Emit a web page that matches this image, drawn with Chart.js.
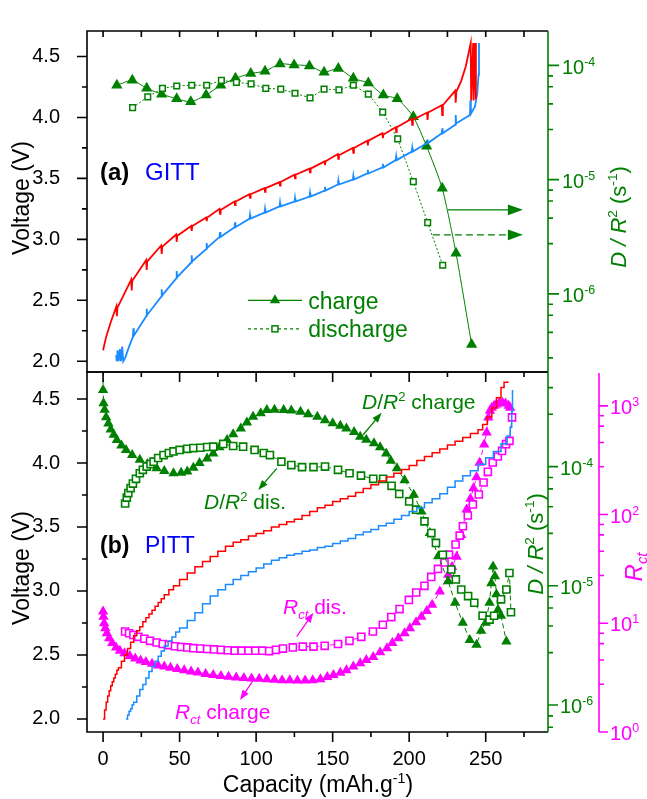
<!DOCTYPE html>
<html>
<head>
<meta charset="utf-8">
<script src="https://cdn.jsdelivr.net/npm/chart.js@4.4.1/dist/chart.umd.min.js"></script>
<style>
  body { margin: 0; background: #fff; }
  #wrap { position: relative; width: 647px; height: 799px; }
  canvas { position: absolute; left: 0; top: 0; }
</style>
</head>
<body>
<div id="wrap">
  <canvas id="gitt" width="647" height="799"></canvas>
  <canvas id="pitt" width="647" height="799"></canvas>
</div>
<script>
const GREEN = '#008000', MAGENTA = '#ff00ff', RED = '#ff0000', BLUE = '#1a8cff';
const FONT = '"Liberation Sans", Arial, Helvetica, sans-serif';

// ---- (a) GITT : voltage curves (capacity, V) ----
const gittChgCap = [0, 2, 5, 8.7, 9.0, 9.4, 18.4, 18.7, 19.1, 28.2, 28.5, 28.9, 38.0, 38.3, 38.7, 47.8, 48.1, 48.5, 57.6, 57.9, 58.3, 67.4, 67.7, 68.1, 76.1, 76.4, 76.8, 85.9, 86.2, 86.6, 95.7, 96.0, 96.4, 105.5, 105.8, 106.2, 115.3, 115.6, 116.0, 125.1, 125.4, 125.8, 134.9, 135.2, 135.6, 144.7, 145.0, 145.4, 153.4, 153.7, 154.1, 163.2, 163.5, 163.9, 172.7, 173.0, 173.4, 182.5, 182.8, 183.2, 191.2, 191.5, 191.9, 201.7, 202.0, 202.4, 211.7, 212.0, 212.4, 221.3, 221.6, 222.0, 230.1, 230.4, 230.8, 234, 237, 240.2, 240.5, 241.8, 242.1, 243.3, 243.6];
const gittChgV = [2.09, 2.2, 2.32, 2.45, 2.37, 2.44, 2.67, 2.58, 2.66, 2.83, 2.75, 2.82, 2.95, 2.88, 2.94, 3.04, 2.98, 3.03, 3.11, 3.07, 3.11, 3.18, 3.15, 3.18, 3.25, 3.21, 3.24, 3.31, 3.28, 3.31, 3.37, 3.34, 3.37, 3.42, 3.39, 3.42, 3.47, 3.44, 3.47, 3.53, 3.50, 3.53, 3.58, 3.55, 3.58, 3.64, 3.61, 3.64, 3.70, 3.66, 3.69, 3.75, 3.71, 3.75, 3.81, 3.77, 3.81, 3.87, 3.83, 3.86, 3.92, 3.88, 3.92, 3.99, 3.94, 3.98, 4.04, 3.98, 4.04, 4.10, 4.02, 4.10, 4.22, 4.12, 4.21, 4.30, 4.42, 4.61, 4.14, 4.61, 4.14, 4.61, 4.15];
const gittDisCap = [8.5, 9.0, 9.5, 10.2, 11.0, 11.7, 12.5, 13.2, 14.5, 17.0, 19.5, 19.8, 20.1, 28.2, 28.5, 28.8, 38.0, 38.3, 38.6, 47.8, 48.1, 48.4, 57.6, 57.9, 58.2, 67.4, 67.7, 68.0, 76.1, 76.4, 76.7, 85.9, 86.2, 86.5, 95.7, 96.0, 96.3, 105.5, 105.8, 106.1, 115.3, 115.6, 115.9, 125.1, 125.4, 125.7, 134.9, 135.2, 135.5, 144.7, 145.0, 145.3, 153.4, 153.7, 154.0, 163.2, 163.5, 163.8, 172.7, 173.0, 173.3, 182.5, 182.8, 183.1, 191.2, 191.5, 191.8, 201.7, 202.0, 202.3, 211.7, 212.0, 212.3, 221.3, 221.6, 221.9, 230.1, 230.4, 230.7, 239.7, 240.0, 240.3, 243.0, 244.5, 245.3, 245.6];
const gittDisV = [2.05, 2.0, 2.09, 2.0, 2.1, 2.0, 2.12, 2.0, 2.03, 2.12, 2.20, 2.27, 2.21, 2.37, 2.43, 2.38, 2.53, 2.59, 2.54, 2.68, 2.74, 2.69, 2.81, 2.87, 2.82, 2.92, 2.97, 2.93, 3.02, 3.06, 3.02, 3.10, 3.14, 3.10, 3.17, 3.20, 3.17, 3.22, 3.25, 3.22, 3.27, 3.30, 3.27, 3.31, 3.34, 3.31, 3.35, 3.38, 3.35, 3.40, 3.43, 3.40, 3.45, 3.48, 3.45, 3.49, 3.52, 3.49, 3.54, 3.57, 3.54, 3.59, 3.62, 3.59, 3.65, 3.68, 3.65, 3.72, 3.75, 3.72, 3.79, 3.82, 3.79, 3.87, 3.91, 3.87, 3.94, 4.02, 3.95, 4.02, 4.14, 4.03, 4.09, 4.2, 4.35, 4.61];

// ---- (a) GITT : D/R^2 (s^-1) ----
const gittDChgCap = [9.0, 19.1, 28.5, 38.3, 48.1, 57.3, 67.3, 76.9, 86.5, 96.5, 105.8, 115.6, 124.8, 134.8, 144.4, 153.7, 163.5, 173.3, 183.1, 192.2, 202.7, 211.4, 221.6, 230.6, 240.8];
const gittDChg = [6.7e-5, 7.4e-5, 6.3e-5, 5.6e-5, 5.1e-5, 4.8e-5, 5.5e-5, 6.7e-5, 7.7e-5, 8.5e-5, 8.9e-5, 1.03e-4, 1.01e-4, 9.9e-5, 8.7e-5, 9.4e-5, 7.7e-5, 7.0e-5, 5.5e-5, 5.1e-5, 3.55e-5, 1.96e-5, 8.4e-6, 2.27e-6, 3.6e-7];
const gittDDisCap = [19.3, 29.2, 38.8, 48.1, 57.9, 67.7, 77.3, 87.1, 96.7, 106.3, 116.1, 125.4, 135.2, 144.4, 154.1, 163.5, 173.3, 182.7, 192.5, 202.7, 212.1, 221.9];
const gittDDis = [4.27e-5, 5.3e-5, 6.3e-5, 6.6e-5, 6.7e-5, 6.7e-5, 7.4e-5, 7.1e-5, 6.9e-5, 6.3e-5, 6.2e-5, 5.7e-5, 5.2e-5, 6.2e-5, 6.1e-5, 6.7e-5, 5.6e-5, 3.9e-5, 2.27e-5, 9.6e-6, 4.2e-6, 1.78e-6];

// ---- (b) PITT : voltage staircases ----
const pittChgCap = [0, 1, 2, 3, 4, 5, 6, 7, 8, 9, 10, 12, 14, 16, 18, 20, 22, 24, 26, 28, 30, 32, 34, 36, 38, 40, 43, 46, 50, 55, 60, 65, 70, 75, 80, 85, 90, 95, 100, 105, 110, 115, 120, 125, 130, 135, 140, 145, 150, 155, 160, 165, 170, 175, 180, 185, 190, 195, 200, 205, 210, 215, 220, 225, 230, 235, 240, 245, 248, 251, 254, 257, 260, 262, 265];
const pittChgV = [2.00, 2.07, 2.13, 2.18, 2.22, 2.26, 2.29, 2.32, 2.35, 2.38, 2.40, 2.45, 2.50, 2.55, 2.60, 2.65, 2.69, 2.72, 2.76, 2.79, 2.82, 2.85, 2.88, 2.91, 2.94, 2.97, 3.01, 3.04, 3.09, 3.14, 3.19, 3.23, 3.27, 3.31, 3.35, 3.38, 3.40, 3.43, 3.45, 3.47, 3.50, 3.52, 3.54, 3.56, 3.59, 3.62, 3.65, 3.67, 3.70, 3.72, 3.74, 3.77, 3.80, 3.83, 3.86, 3.89, 3.92, 3.95, 3.98, 4.02, 4.05, 4.08, 4.11, 4.14, 4.17, 4.20, 4.23, 4.26, 4.30, 4.36, 4.43, 4.51, 4.59, 4.63, 4.63];
const pittDisCap = [15, 16, 17, 18, 19, 20, 22, 24, 26, 28, 30, 32, 34, 36, 38, 40, 42.5, 45, 47.5, 50, 55, 60, 65, 70, 75, 80, 85, 90, 95, 100, 105, 110, 115, 120, 125, 130, 135, 140, 145, 150, 155, 160, 165, 170, 175, 180, 185, 190, 195, 200, 205, 210, 215, 220, 225, 230, 235, 240, 245, 250, 255, 260, 264, 266, 267, 267.5];
const pittDisV = [2.00, 2.03, 2.06, 2.08, 2.11, 2.13, 2.18, 2.23, 2.27, 2.32, 2.37, 2.41, 2.45, 2.49, 2.53, 2.57, 2.61, 2.64, 2.68, 2.71, 2.77, 2.83, 2.90, 2.96, 3.01, 3.05, 3.09, 3.12, 3.15, 3.18, 3.21, 3.24, 3.26, 3.28, 3.29, 3.31, 3.32, 3.34, 3.35, 3.37, 3.39, 3.41, 3.44, 3.46, 3.48, 3.51, 3.53, 3.56, 3.59, 3.62, 3.65, 3.69, 3.72, 3.76, 3.81, 3.86, 3.90, 3.94, 3.99, 4.04, 4.09, 4.15, 4.21, 4.28, 4.40, 4.57];

// ---- (b) PITT : D/R^2 (s^-1) ----
const pittDChgCap = [0, 0, 0.3, 1, 2, 3.5, 5, 7, 9, 12, 15, 19, 24, 29, 35, 40, 46, 51, 55, 59, 63, 68, 72, 76, 81, 85, 90, 94, 98, 103, 107, 112, 118, 123, 129, 134, 140, 145, 150, 155, 159, 164, 168, 172, 177, 181, 185, 188, 192, 197, 203, 208, 213.5, 219, 225.5, 230, 235, 239.6, 244, 247, 250, 252.5, 253.7, 254.8, 256, 257, 258, 260, 263.5];
const pittDChg = [1.0e-3, 4.4e-4, 3.4e-4, 3.0e-4, 2.6e-4, 2.3e-4, 2.05e-4, 1.85e-4, 1.67e-4, 1.5e-4, 1.38e-4, 1.25e-4, 1.14e-4, 1.05e-4, 9.7e-5, 9.2e-5, 8.8e-5, 8.9e-5, 9.1e-5, 9.8e-5, 1.07e-4, 1.17e-4, 1.29e-4, 1.45e-4, 1.67e-4, 1.87e-4, 2.09e-4, 2.35e-4, 2.62e-4, 2.8e-4, 2.98e-4, 3.0e-4, 2.98e-4, 2.95e-4, 2.88e-4, 2.75e-4, 2.62e-4, 2.45e-4, 2.31e-4, 2.2e-4, 2.09e-4, 1.95e-4, 1.78e-4, 1.68e-4, 1.57e-4, 1.45e-4, 1.29e-4, 1.12e-4, 9.7e-5, 7.7e-5, 5.8e-5, 4.2e-5, 2.77e-5, 1.77e-5, 1.09e-5, 7.2e-6, 4.9e-6, 3.5e-6, 3.2e-6, 4.2e-6, 4.9e-6, 7.2e-6, 1.05e-5, 1.45e-5, 1.2e-5, 8.5e-6, 6.3e-6, 5.6e-6, 3.4e-6];
const pittDDisCap = [14.4, 15.5, 16.5, 18, 19.5, 21.5, 24, 26, 28.5, 31, 33, 36, 39.5, 43, 46, 50, 55, 59, 63.5, 68, 72, 78.5, 85, 91.5, 99, 105, 109, 116.5, 123, 130, 137.5, 145, 153.5, 161, 168.5, 176.5, 183, 188.5, 193.5, 200, 204.5, 210, 214.5, 217.5, 222, 227.5, 230.5, 234, 238.5, 242.5, 248, 252.5, 255.5, 260, 263.5, 265.5, 266.5];
const pittDDis = [4.9e-5, 5.5e-5, 6.0e-5, 6.6e-5, 7.2e-5, 7.9e-5, 8.8e-5, 9.4e-5, 1.0e-4, 1.05e-4, 1.1e-4, 1.18e-4, 1.25e-4, 1.3e-4, 1.34e-4, 1.38e-4, 1.41e-4, 1.43e-4, 1.44e-4, 1.46e-4, 1.47e-4, 1.55e-4, 1.49e-4, 1.47e-4, 1.38e-4, 1.3e-4, 1.25e-4, 1.1e-4, 1.03e-4, 9.9e-5, 9.9e-5, 1.0e-4, 9.4e-5, 8.8e-5, 8.4e-5, 7.9e-5, 7.9e-5, 6.9e-5, 5.9e-5, 5.1e-5, 4.35e-5, 3.47e-5, 2.77e-5, 2.29e-5, 1.82e-5, 1.37e-5, 1.13e-5, 9.3e-6, 8.2e-6, 7.2e-6, 5.6e-6, 5.2e-6, 5.6e-6, 7.7e-6, 9.3e-6, 1.28e-5, 6.0e-6];

// ---- (b) PITT : Rct ----
const pittRChgCap = [0, 0.3, 0.7, 1.5, 2.5, 4, 6, 8.5, 11, 14, 17.5, 21, 24.5, 28, 32, 36, 40, 44, 48.5, 53, 57.5, 62, 67, 72, 77, 82, 87, 92, 97, 102, 107, 112, 117, 122, 127, 132, 137, 142, 146.5, 150.5, 155, 159, 163.5, 168, 172, 176.5, 181, 185.5, 189, 193, 197, 200.5, 204.5, 208, 211.5, 215, 220, 225.5, 228, 231, 234, 237.5, 240, 242, 244, 246, 249, 250.6, 251.7, 252.8, 254, 255.5, 257, 259, 261, 263, 265, 266];
const pittRChg = [12.8, 11.5, 10, 9, 8.1, 7.3, 6.6, 6.0, 5.6, 5.3, 5.0, 4.75, 4.55, 4.4, 4.25, 4.1, 4.0, 3.9, 3.8, 3.7, 3.6, 3.52, 3.42, 3.35, 3.28, 3.22, 3.17, 3.13, 3.11, 3.09, 3.05, 3.02, 3.0, 3.0, 2.98, 2.98, 3.0, 3.05, 3.2, 3.34, 3.5, 3.7, 4.0, 4.3, 4.6, 4.9, 5.4, 5.9, 6.6, 7.3, 8.1, 9.0, 10.2, 11.5, 13, 14.8, 19.6, 28, 33, 41, 65, 111, 140, 175, 220, 300, 440, 569, 783, 902, 960, 1000, 1030, 1070, 1070, 1050, 1000, 960];
const pittRDisCap = [14.4, 17, 19.8, 23, 27, 30.7, 35, 39, 43, 47, 51, 55, 59, 63.5, 68, 72.5, 77, 81.5, 86, 90.5, 95, 99.5, 104, 108.5, 113, 117.5, 124, 130.5, 137.5, 144.8, 153.5, 161, 168.7, 176.3, 182.8, 188.3, 193.7, 199.8, 204.6, 210, 214.4, 218.8, 223.1, 226, 230.3, 233, 235.1, 238.3, 241.6, 245.5, 248.6, 251.4, 254.6, 257.9, 260.7, 263.3, 265.5, 267.2];
const pittRDis = [8.4, 8.1, 7.8, 7.5, 7.2, 6.9, 6.65, 6.45, 6.3, 6.15, 6.05, 6.0, 5.9, 5.85, 5.8, 5.75, 5.7, 5.65, 5.6, 5.6, 5.6, 5.6, 5.6, 5.55, 5.7, 5.85, 6.0, 6.1, 6.1, 6.2, 6.45, 6.9, 7.5, 8.4, 9.7, 11.4, 13.5, 16.4, 19.2, 22.1, 26.7, 31.6, 36.3, 42.8, 53, 64, 78, 98, 124, 153, 197, 247, 301, 342, 385, 444, 476, 783];

// tick values
const capTicks = [0, 25, 50, 75, 100, 125, 150, 175, 200, 225, 250, 275];
const voltTicks = [2.0, 2.25, 2.5, 2.75, 3.0, 3.25, 3.5, 3.75, 4.0, 4.25, 4.5];
const logMinor = [2.75, 4.6, 6.5, 8.1];

const xy = (xs, ys) => xs.map((x, i) => ({x: x, y: ys[i]}));
const isMajorV = v => Math.abs(v * 2 - Math.round(v * 2)) < 1e-6;

// text with italic / superscript / subscript runs
function rich(ctx, runs, x, y, size, color, rot, align) {
  ctx.save();
  ctx.translate(x, y);
  if (rot) ctx.rotate(rot);
  const parts = runs.map(([t, k]) => {
    const small = k === 'sup' || k === 'sub' || k === 'isub';
    const s = small ? size * 0.62 : size;
    const style = (k === 'i' || k === 'isub') ? 'italic ' : (k === 'b' ? 'bold ' : '');
    const font = style + s + 'px ' + FONT;
    ctx.font = font;
    const dy = k === 'sup' ? -size * 0.4 : (small ? size * 0.24 : 0);
    return {t: t, font: font, dy: dy, w: ctx.measureText(t).width};
  });
  const total = parts.reduce((s, p) => s + p.w, 0);
  let cx = align === 'left' ? 0 : -total / 2;
  ctx.fillStyle = color;
  ctx.textAlign = 'left';
  ctx.textBaseline = 'alphabetic';
  parts.forEach(p => {
    ctx.font = p.font;
    ctx.fillText(p.t, cx, size * 0.36 + p.dy);
    cx += p.w;
  });
  ctx.restore();
}

function arrow(ctx, x1, y1, x2, y2, color, head, dash) {
  const ang = Math.atan2(y2 - y1, x2 - x1);
  ctx.save();
  ctx.strokeStyle = color;
  ctx.fillStyle = color;
  ctx.lineWidth = 1.3;
  ctx.setLineDash(dash || []);
  ctx.beginPath();
  ctx.moveTo(x1, y1);
  ctx.lineTo(x2 - Math.cos(ang) * head * 0.8, y2 - Math.sin(ang) * head * 0.8);
  ctx.stroke();
  ctx.setLineDash([]);
  ctx.translate(x2, y2);
  ctx.rotate(ang);
  ctx.beginPath();
  ctx.moveTo(0, 0);
  ctx.lineTo(-head, -head * 0.36);
  ctx.lineTo(-head, head * 0.36);
  ctx.closePath();
  ctx.fill();
  ctx.restore();
}

function logTicks(min, max) {
  const out = [];
  for (let e = Math.floor(Math.log10(min)); e <= Math.ceil(Math.log10(max)); e++) {
    const m = Math.pow(10, e);
    if (m >= min && m <= max) out.push({v: m, major: true, e: e});
    logMinor.forEach(f => {
      const v = f * m;
      if (v >= min && v <= max) out.push({v: v, major: false});
    });
  }
  return out;
}

function drawLogAxis(ctx, scale, x0, top, bottom, color, majLen, gap) {
  ctx.save();
  ctx.strokeStyle = color;
  ctx.lineWidth = 1.6;
  ctx.beginPath();
  ctx.moveTo(x0, top);
  ctx.lineTo(x0, bottom);
  const ticks = logTicks(scale.min, scale.max);
  ticks.forEach(t => {
    const py = scale.getPixelForValue(t.v);
    ctx.moveTo(x0, py);
    ctx.lineTo(x0 + (t.major ? majLen : 5), py);
  });
  ctx.stroke();
  ticks.filter(t => t.major).forEach(t => {
    rich(ctx, [['10', ''], [String(t.e), 'sup']], x0 + gap, scale.getPixelForValue(t.v) + 1, 20, color, 0, 'left');
  });
  ctx.restore();
}

function frameAndVolt(ctx, a, yV) {
  ctx.strokeStyle = '#000';
  ctx.lineWidth = 1.6;
  ctx.beginPath();
  ctx.moveTo(a.right, a.top);
  ctx.lineTo(a.left, a.top);
  ctx.lineTo(a.left, a.bottom);
  ctx.lineTo(a.right, a.bottom);
  voltTicks.forEach(v => {
    const py = yV.getPixelForValue(v);
    ctx.moveTo(a.left, py);
    ctx.lineTo(a.left - (isMajorV(v) ? 10 : 5), py);
  });
  ctx.stroke();
}

function triMark(ctx, x, y, r, color) {
  ctx.fillStyle = color;
  ctx.beginPath();
  for (let k = 0; k < 3; k++) {
    const ang = k * 2 * Math.PI / 3;
    ctx.lineTo(x + Math.sin(ang) * r, y - Math.cos(ang) * r);
  }
  ctx.closePath();
  ctx.fill();
}

const gittDecor = {
  id: 'gittDecor',
  afterDraw(chart) {
    const {ctx, chartArea: a} = chart;
    const {x, yV, yD} = chart.scales;
    const P = (c, v) => [x.getPixelForValue(c), yV.getPixelForValue(v)];
    ctx.save();
    frameAndVolt(ctx, a, yV);
    ctx.beginPath();
    capTicks.forEach(v => {
      const px = x.getPixelForValue(v);
      ctx.moveTo(px, a.top);
      ctx.lineTo(px, a.top + 6);
    });
    ctx.stroke();
    drawLogAxis(ctx, yD, a.right, a.top, a.bottom, GREEN, 11, 14);

    rich(ctx, [['Voltage (V)', '']], 21, 198, 23, '#000', -Math.PI / 2);
    rich(ctx, [['D / R', 'i'], ['2', 'sup'], [' (s', ''], ['-1', 'sup'], [')', '']], 618, 217, 22, GREEN, -Math.PI / 2);

    let p = P(-2, 3.56);
    rich(ctx, [['(a)', 'b']], p[0], p[1], 24, '#000', 0, 'left');
    p = P(27.4, 3.56);
    rich(ctx, [['GITT', '']], p[0], p[1], 24, '#0000ff', 0, 'left');

    // legend
    const l1 = P(94.7, 2.5), l2 = P(130, 2.5), lm = P(112.3, 2.5);
    ctx.strokeStyle = GREEN;
    ctx.lineWidth = 1.2;
    ctx.beginPath(); ctx.moveTo(l1[0], l1[1]); ctx.lineTo(l2[0], l2[1]); ctx.stroke();
    triMark(ctx, lm[0], lm[1], 6, GREEN);
    p = P(134, 2.5);
    rich(ctx, [['charge', '']], p[0], p[1], 23, GREEN, 0, 'left');
    const d1 = P(94.7, 2.266), d2 = P(130, 2.266), dm = P(112.3, 2.266);
    ctx.setLineDash([3, 3]);
    ctx.beginPath(); ctx.moveTo(d1[0], d1[1]); ctx.lineTo(d2[0], d2[1]); ctx.stroke();
    ctx.setLineDash([]);
    ctx.fillStyle = '#fff';
    ctx.lineWidth = 1.5;
    ctx.fillRect(dm[0] - 3, dm[1] - 3, 6, 6);
    ctx.strokeRect(dm[0] - 3, dm[1] - 3, 6, 6);
    p = P(134, 2.266);
    rich(ctx, [['discharge', '']], p[0], p[1], 23, GREEN, 0, 'left');

    // arrows to right axis
    let s = P(225.3, 3.242), e = P(274.3, 3.242);
    arrow(ctx, s[0], s[1], e[0], e[1], GREEN, 15);
    s = P(215.5, 3.037); e = P(274.3, 3.037);
    arrow(ctx, s[0], s[1], e[0], e[1], GREEN, 15, [7, 4]);
    ctx.restore();
  }
};

const pittDecor = {
  id: 'pittDecor',
  afterDraw(chart) {
    const {ctx, chartArea: a} = chart;
    const {x, yV, yD, yR} = chart.scales;
    const P = (c, v) => [x.getPixelForValue(c), yV.getPixelForValue(v)];
    ctx.save();
    frameAndVolt(ctx, a, yV);
    ctx.beginPath();
    capTicks.forEach(v => {
      const px = x.getPixelForValue(v);
      const L = v % 50 === 0 ? 10 : 5;
      ctx.moveTo(px, a.top);
      ctx.lineTo(px, a.top + L);
      ctx.moveTo(px, a.bottom);
      ctx.lineTo(px, a.bottom + L);
    });
    ctx.stroke();
    drawLogAxis(ctx, yD, a.right, a.top, a.bottom, GREEN, 10, 12);
    drawLogAxis(ctx, yR, yR.left, a.top + 1, a.bottom, MAGENTA, 9, 11);

    rich(ctx, [['Voltage (V)', '']], 21, 568, 23, '#000', -Math.PI / 2);
    rich(ctx, [['D / R', 'i'], ['2', 'sup'], [' (s', ''], ['-1', 'sup'], [')', '']], 535, 544, 22, GREEN, -Math.PI / 2);
    rich(ctx, [['R', 'i'], ['ct', 'isub']], 633, 567, 24, MAGENTA, -Math.PI / 2);
    rich(ctx, [['Capacity (mAh.g', ''], ['-1', 'sup'], [')', '']], 318, 784, 23, '#000');

    let p = P(-2, 3.36);
    rich(ctx, [['(b)', 'b']], p[0], p[1], 23, '#000', 0, 'left');
    p = P(27.4, 3.36);
    rich(ctx, [['PITT', '']], p[0], p[1], 23, '#0000ff', 0, 'left');

    p = P(169.2, 4.479);
    rich(ctx, [['D', 'i'], ['/', ''], ['R', 'i'], ['2', 'sup'], [' charge', '']], p[0], p[1], 21, GREEN, 0, 'left');
    let s = P(169.8, 4.219), e = P(182.0, 4.393);
    arrow(ctx, s[0], s[1], e[0], e[1], GREEN, 10);

    p = P(66, 3.698);
    rich(ctx, [['D', 'i'], ['/', ''], ['R', 'i'], ['2', 'sup'], [' dis.', '']], p[0], p[1], 21, GREEN, 0, 'left');
    s = P(113.5, 3.958); e = P(101.4, 3.789);
    arrow(ctx, s[0], s[1], e[0], e[1], GREEN, 10);

    p = P(117.6, 2.877);
    rich(ctx, [['R', 'i'], ['ct', 'isub'], [' dis.', '']], p[0], p[1], 21, MAGENTA, 0, 'left');
    s = P(126.5, 2.643); e = P(137.4, 2.830);
    arrow(ctx, s[0], s[1], e[0], e[1], MAGENTA, 10);

    p = P(47, 2.057);
    rich(ctx, [['R', 'i'], ['ct', 'isub'], [' charge', '']], p[0], p[1], 21, MAGENTA, 0, 'left');
    s = P(98.2, 2.305); e = P(89.5, 2.148);
    arrow(ctx, s[0], s[1], e[0], e[1], MAGENTA, 10);
    ctx.restore();
  }
};

Chart.defaults.font.family = FONT;

const capAxis = (showLabels, height) => ({
  type: 'linear', position: 'bottom', min: -10.5, max: 290.7,
  grid: {display: false}, border: {display: false},
  ticks: {display: showLabels, color: '#000', font: {size: 20}, padding: 7, autoSkip: false, maxRotation: 0,
    callback: v => (v % 50 === 0 ? String(v) : '')},
  afterBuildTicks: s => { s.ticks = capTicks.map(v => ({value: v})); },
  afterFit: s => { s.height = height; }
});

const voltAxis = (min, max) => ({
  type: 'linear', position: 'left', min: min, max: max,
  grid: {display: false}, border: {display: false},
  ticks: {color: '#000', font: {size: 20}, padding: 19, autoSkip: false,
    callback: v => (isMajorV(v) ? v.toFixed(1) : '')},
  afterBuildTicks: s => { s.ticks = voltTicks.map(v => ({value: v})); },
  afterFit: s => { s.width = 87; }
});

const logAxis = (min, max, width) => ({
  type: 'logarithmic', position: 'right', min: min, max: max,
  grid: {display: false}, border: {display: false},
  ticks: {display: false},
  afterFit: s => { s.width = width; }
});

const common = {
  responsive: false,
  animation: false,
  events: [],
  plugins: {legend: {display: false}, tooltip: {enabled: false}}
};

new Chart(document.getElementById('gitt'), {
  type: 'line',
  data: {
    datasets: [
      {data: xy(gittChgCap, gittChgV), yAxisID: 'yV', borderColor: RED, borderWidth: 1.8, pointRadius: 0},
      {data: xy(gittDisCap, gittDisV), yAxisID: 'yV', borderColor: BLUE, borderWidth: 1.8, pointRadius: 0},
      {data: xy(gittDDisCap, gittDDis), yAxisID: 'yD', borderColor: GREEN, borderWidth: 1, borderDash: [2, 2],
        pointStyle: 'rect', pointRadius: 4, pointBorderWidth: 1.5, pointBackgroundColor: '#fff', pointBorderColor: GREEN},
      {data: xy(gittDChgCap, gittDChg), yAxisID: 'yD', borderColor: GREEN, borderWidth: 1, tension: 0.2,
        pointStyle: 'triangle', pointRadius: 6.5, pointBackgroundColor: GREEN, pointBorderColor: GREEN, pointBorderWidth: 0}
    ]
  },
  options: Object.assign({}, common, {
    layout: {padding: {top: 14, bottom: 427, left: 0, right: 0}, autoPadding: false},
    scales: {
      x: capAxis(false, 0),
      yV: voltAxis(1.912, 4.709),
      yD: logAxis(2.07e-7, 2.0e-4, 99)
    }
  }),
  plugins: [gittDecor]
});

new Chart(document.getElementById('pitt'), {
  type: 'line',
  data: {
    datasets: [
      {data: xy(pittChgCap, pittChgV), yAxisID: 'yV', borderColor: RED, borderWidth: 1.5, pointRadius: 0, stepped: 'before'},
      {data: xy(pittDisCap, pittDisV), yAxisID: 'yV', borderColor: BLUE, borderWidth: 1.5, pointRadius: 0, stepped: 'before'},
      {data: xy(pittDDisCap, pittDDis), yAxisID: 'yD', borderColor: GREEN, borderWidth: 1, borderDash: [5, 3],
        pointStyle: 'rect', pointRadius: 5, pointBorderWidth: 1.6, pointBackgroundColor: '#fff', pointBorderColor: GREEN},
      {data: xy(pittDChgCap, pittDChg), yAxisID: 'yD', borderColor: GREEN, borderWidth: 1, borderDash: [5, 3],
        pointStyle: 'triangle', pointRadius: 6, pointBackgroundColor: GREEN, pointBorderColor: GREEN, pointBorderWidth: 0},
      {data: xy(pittRDisCap, pittRDis), yAxisID: 'yR', borderColor: MAGENTA, borderWidth: 1, borderDash: [5, 3],
        pointStyle: 'rect', pointRadius: 5, pointBorderWidth: 1.6, pointBackgroundColor: '#fff', pointBorderColor: MAGENTA},
      {data: xy(pittRChgCap, pittRChg), yAxisID: 'yR', borderColor: MAGENTA, borderWidth: 1, borderDash: [5, 3],
        pointStyle: 'triangle', pointRadius: 6, pointBackgroundColor: MAGENTA, pointBorderColor: MAGENTA, pointBorderWidth: 0}
    ]
  },
  options: Object.assign({}, common, {
    layout: {padding: {top: 372, bottom: 0, left: 0, right: 0}, autoPadding: false},
    scales: {
      x: capAxis(true, 67),
      yV: voltAxis(1.898, 4.711),
      yD: logAxis(5.93e-7, 6.22e-4, 51),
      yR: logAxis(1, 2047, 48)
    }
  }),
  plugins: [pittDecor]
});
</script>
</body>
</html>
